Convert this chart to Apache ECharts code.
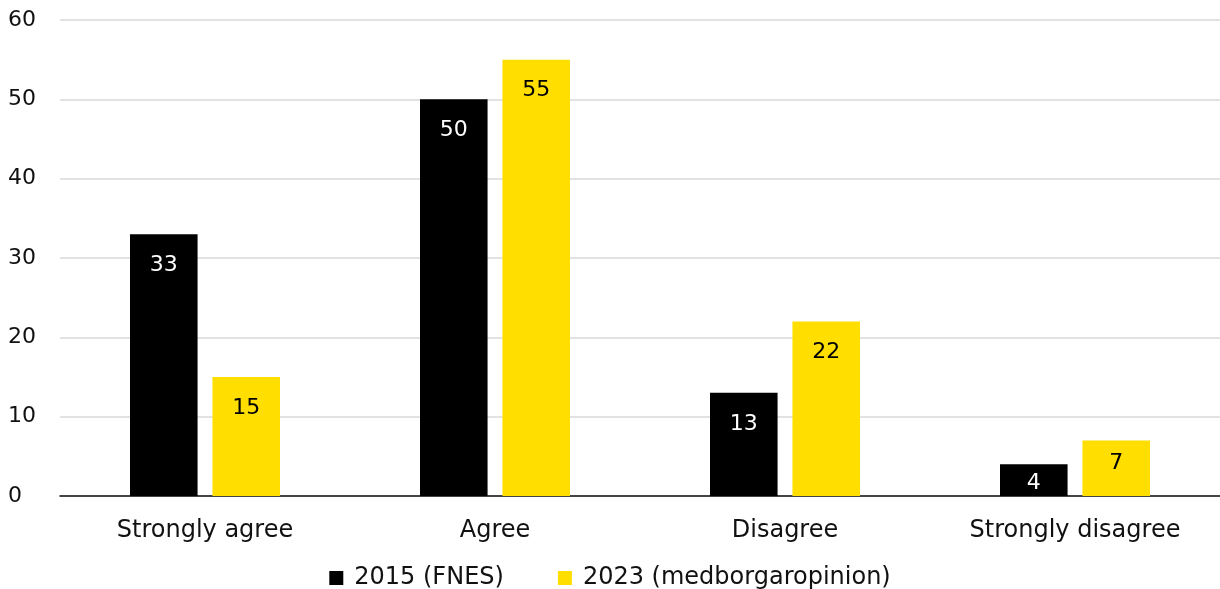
<!DOCTYPE html>
<html>
<head>
<meta charset="utf-8">
<script src="https://cdn.jsdelivr.net/npm/echarts@6/dist/echarts.min.js"></script>
<style>html,body{margin:0;padding:0;background:#fff}#c{width:1220px;height:589px}</style>
</head>
<body>
<div id="c"></div>
<script>
const categories = ['Strongly agree', 'Agree', 'Disagree', 'Strongly disagree'];
const series2015 = [33, 50, 13, 4];
const series2023 = [15, 55, 22, 7];
const seriesNames = ['2015 (FNES)', '2023 (medborgaropinion)'];
const yTicks = [0, 10, 20, 30, 40, 50, 60];

const FONT = '"DejaVu Sans", "Noto Sans", sans-serif';

// Short bars get their label pushed down less so it stays inside the bar
function withLabels(values) {
  return values.map(v => {
    if (v < 5) return { value: v, label: { position: 'inside', offset: [0, 3] } };
    if (v < 10) return { value: v, label: { distance: 12 } };
    return v;
  });
}

const chart = echarts.init(document.getElementById('c'));
chart.setOption({
  animation: false,
  textStyle: { fontFamily: FONT },
  grid: { left: 60, right: 0, top: 20, bottom: 93, containLabel: false },
  legend: {
    bottom: -6,
    left: 'center',
    itemWidth: 14, itemHeight: 14, itemGap: 54,
    icon: 'rect',
    textStyle: { fontFamily: FONT, fontSize: 24, color: '#111', padding: [0, 0, 0, 6] },
    data: seriesNames
  },
  xAxis: {
    type: 'category',
    data: categories,
    axisTick: { show: false },
    axisLine: { lineStyle: { color: '#111', width: 1.5 } },
    axisLabel: { fontFamily: FONT, fontSize: 24, color: '#111', margin: 23 }
  },
  yAxis: {
    type: 'value',
    min: yTicks[0], max: yTicks[yTicks.length - 1], interval: 10,
    axisLine: { show: false },
    axisTick: { show: false },
    splitLine: { lineStyle: { color: '#d9d9d9', width: 1.5 } },
    axisLabel: { fontFamily: FONT, fontSize: 22, color: '#111', align: 'left', margin: 52 }
  },
  series: [
    {
      name: seriesNames[0], type: 'bar', data: withLabels(series2015),
      barWidth: '23.3%', barGap: '22%',
      itemStyle: { color: '#000000' },
      label: { show: true, position: 'insideTop', distance: 20, color: '#fff', fontSize: 22, fontFamily: FONT }
    },
    {
      name: seriesNames[1], type: 'bar', data: withLabels(series2023),
      barWidth: '23.3%',
      itemStyle: { color: '#FFDE00' },
      label: { show: true, position: 'insideTop', distance: 20, color: '#000', fontSize: 22, fontFamily: FONT }
    }
  ]
});
</script>
</body>
</html>
